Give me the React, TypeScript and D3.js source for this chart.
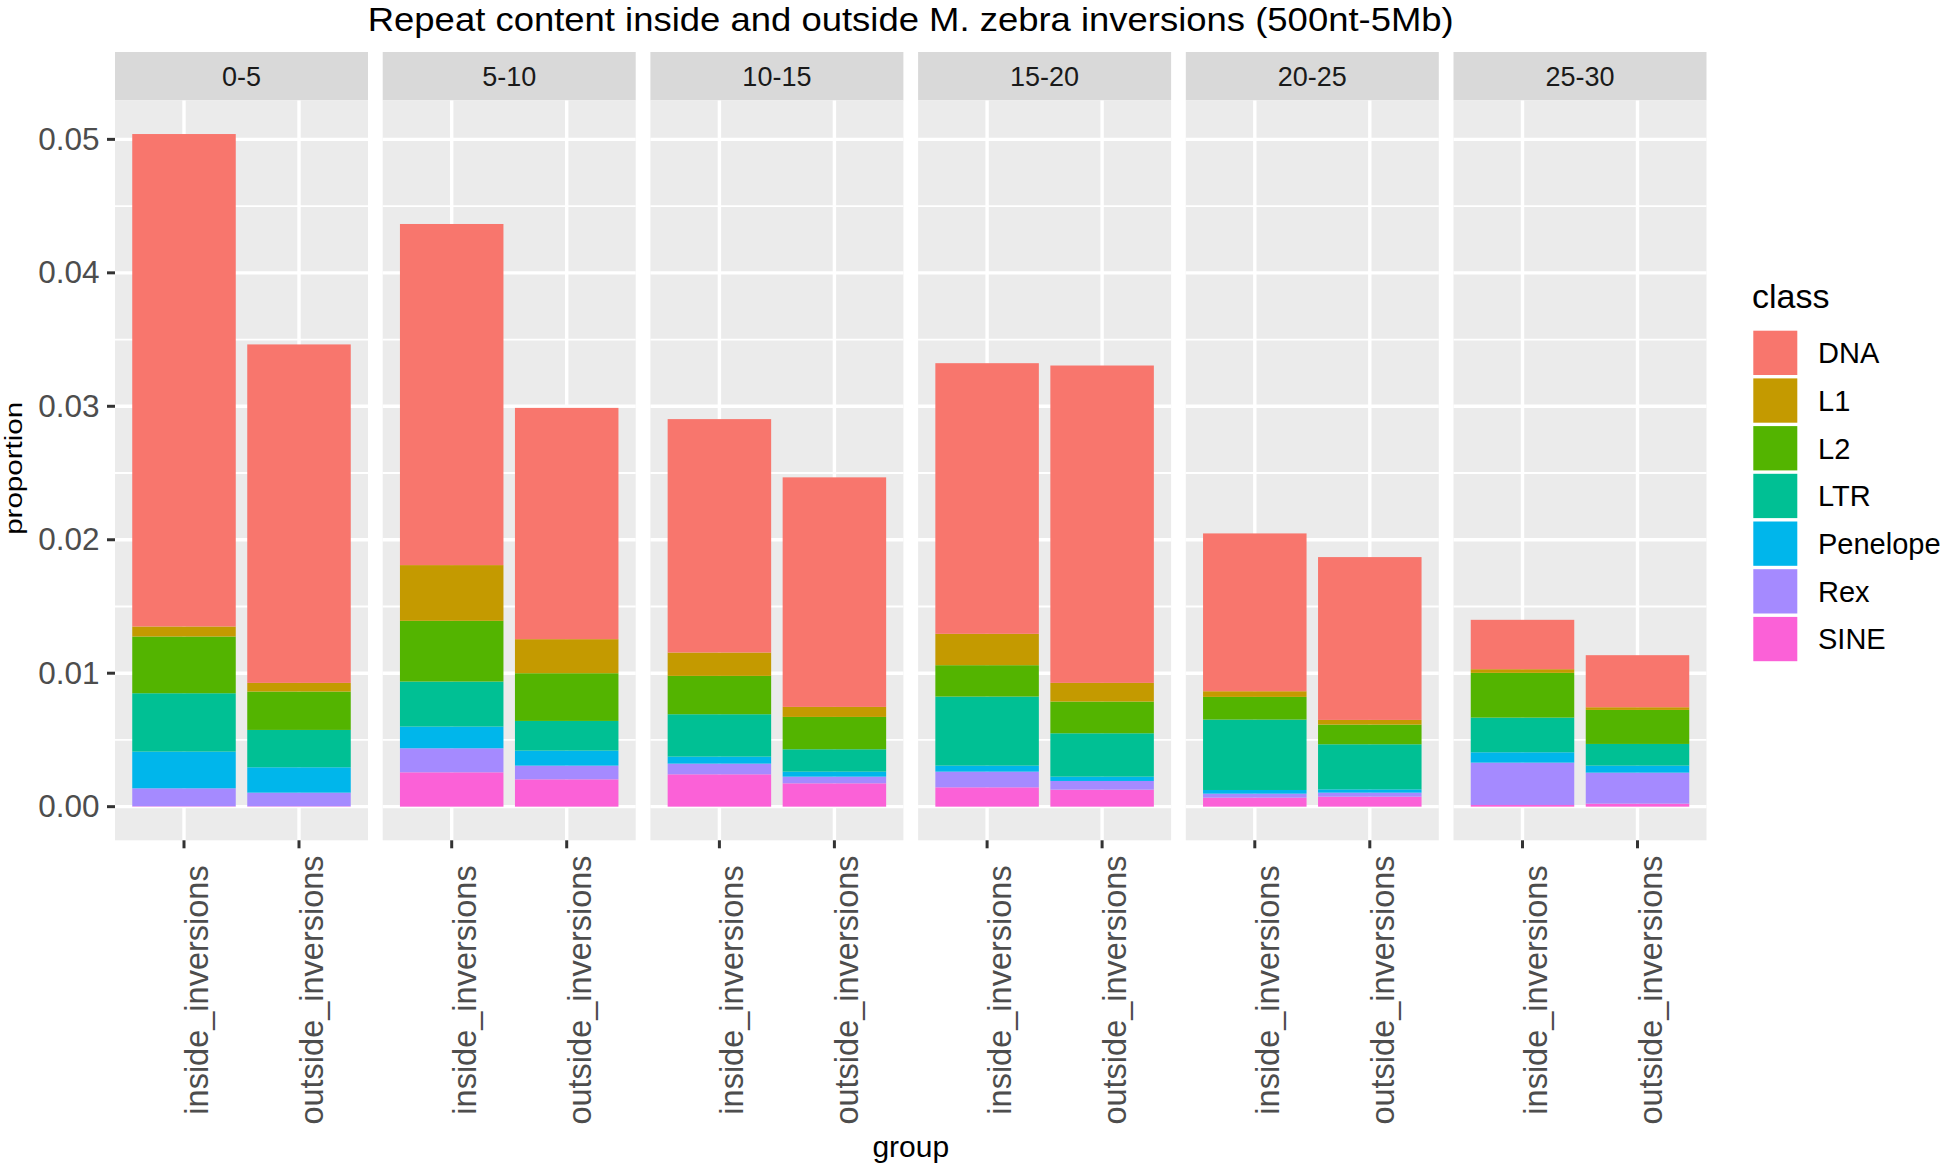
import React from "react";
import * as d3 from "d3";

const bins = ["0-5", "5-10", "10-15", "15-20", "20-25", "25-30"];
const groups = ["inside_inversions", "outside_inversions"];
const classes = ["DNA", "L1", "L2", "LTR", "Penelope", "Rex", "SINE"];
const colors = ["#F8766D", "#C49A00", "#53B400", "#00C094", "#00B6EB", "#A58AFF", "#FB61D7"];

// values per class, ordered bin-major: [bin0 inside, bin0 outside, bin1 inside, ...]
const DNA = [0.0369, 0.02536, 0.02556, 0.01733, 0.01749, 0.0172, 0.02028, 0.02378, 0.011825, 0.0122, 0.0037, 0.0039];
const L1 = [0.00075, 0.00065, 0.004175, 0.00255, 0.00175, 0.00075, 0.00235, 0.0014, 0.000425, 0.00035, 0.000275, 0.0002];
const L2 = [0.00425, 0.002875, 0.00455, 0.003575, 0.002875, 0.002425, 0.00235, 0.002375, 0.0017, 0.001475, 0.00335, 0.00255];
const LTR = [0.004375, 0.0028, 0.003375, 0.002225, 0.003175, 0.001675, 0.005175, 0.00325, 0.005275, 0.003375, 0.0026, 0.001625];
const Penelope = [0.00275, 0.0019, 0.001625, 0.001125, 0.000525, 0.000375, 0.00045, 0.000325, 0.000275, 0.00025, 0.000775, 0.000525];
const Rex = [0.001345, 0.00102, 0.0018, 0.001025, 0.0008, 0.0005, 0.001175, 0.00065, 0.0003, 0.0003, 0.003175, 0.002325];
const SINE = [0.00003, 0.00003, 0.002575, 0.00205, 0.002425, 0.00175, 0.00145, 0.001275, 0.000675, 0.00075, 0.000125, 0.000225];

const yTicks = [0, 0.01, 0.02, 0.03, 0.04, 0.05];
const yMinor = [0.005, 0.015, 0.025, 0.035, 0.045];

const seriesByClass: Record<string, number[]> = { DNA, L1, L2, LTR, Penelope, Rex, SINE };

const FONT = "'Liberation Sans', Arial, Helvetica, sans-serif";

export default function App() {
  const W = 1946, H = 1167;
  const panelLeft = 115, panelW = 253, pitch = 267.7;
  const panelTop = 100.4, panelBottom = 840.3;
  const stripTop = 52;

  const rows = bins.flatMap((b, bi) =>
    groups.map((g, gi) => {
      const r: any = { bin: b, group: g };
      classes.forEach((c) => (r[c] = seriesByClass[c][bi * 2 + gi]));
      return r;
    })
  );
  const stackKeys = [...classes].reverse();
  const stacked = d3.stack().keys(stackKeys)(rows as any);
  const totals = rows.map((r) => classes.reduce((s, c) => s + r[c], 0));
  const maxT = d3.max(totals) as number;
  const y = d3.scaleLinear().domain([-0.05 * maxT, maxT * 1.05]).range([panelBottom, panelTop]);

  // ggplot discrete: expand 0.6 units each side; bar width 0.9
  const x = d3.scalePoint().domain(groups).range([0, panelW]).padding(0.6);
  const unit = panelW / (groups.length - 1 + 1.2);
  const center = (g: string) => x(g) as number;
  const barW = unit * 0.9;

  const colorOf = d3.scaleOrdinal<string, string>().domain(classes).range(colors);
  const midX = (panelLeft + panelLeft + pitch * 5 + panelW) / 2;

  return (
    <svg width={W} height={H} style={{ position: "absolute", left: 0, top: 0 }} fontFamily={FONT}>
      <rect x={0} y={0} width={W} height={H} fill="#ffffff" />
      <text x={midX} y={30.5} textAnchor="middle" fontSize={33} textLength={1086} lengthAdjust="spacingAndGlyphs" fill="#000">
        Repeat content inside and outside M. zebra inversions (500nt-5Mb)
      </text>
      {bins.map((b, bi) => {
        const px = panelLeft + pitch * bi;
        return (
          <g key={b} transform={`translate(${px},0)`}>
            <rect x={0} y={stripTop} width={panelW} height={panelTop - stripTop} fill="#D9D9D9" />
            <text x={panelW / 2} y={86} textAnchor="middle" fontSize={27} fill="#1A1A1A">
              {b}
            </text>
            <rect x={0} y={panelTop} width={panelW} height={panelBottom - panelTop} fill="#EBEBEB" />
            {yMinor.map((t) => (
              <line key={"m" + t} x1={0} x2={panelW} y1={y(t)} y2={y(t)} stroke="#fff" strokeWidth={1.8} />
            ))}
            {yTicks.map((t) => (
              <line key={"M" + t} x1={0} x2={panelW} y1={y(t)} y2={y(t)} stroke="#fff" strokeWidth={3.4} />
            ))}
            {groups.map((g) => (
              <line key={g} x1={center(g)} x2={center(g)} y1={panelTop} y2={panelBottom} stroke="#fff" strokeWidth={3.4} />
            ))}
            {stacked.map((s) =>
              groups.map((g, gi) => {
                const d = s[bi * 2 + gi];
                const y0 = y(d[0]), y1 = y(d[1]);
                return (
                  <rect
                    key={s.key + g}
                    x={center(g) - barW / 2}
                    width={barW}
                    y={y1}
                    height={Math.max(0, y0 - y1)}
                    fill={colorOf(s.key)}
                  />
                );
              })
            )}
            {groups.map((g) => (
              <g key={"t" + g}>
                <line x1={center(g)} x2={center(g)} y1={panelBottom} y2={panelBottom + 8} stroke="#333" strokeWidth={3} />
                <text
                  transform={`translate(${center(g)},990) rotate(-90)`}
                  textAnchor="middle"
                  dy="0.74em"
                  fontSize={32.5}
                  fill="#4D4D4D"
                >
                  {g}
                </text>
              </g>
            ))}
          </g>
        );
      })}
      {yTicks.map((t) => (
        <g key={"yt" + t}>
          <line x1={panelLeft - 8} x2={panelLeft} y1={y(t)} y2={y(t)} stroke="#333" strokeWidth={3} />
          <text x={99.5} y={y(t)} dy="0.33em" textAnchor="end" fontSize={31.5} fill="#4D4D4D">
            {t.toFixed(2)}
          </text>
        </g>
      ))}
      <text
        transform={`translate(22,${(panelTop + panelBottom) / 2 - 2}) rotate(-90)`}
        textAnchor="middle"
        fontSize={23}
        textLength={133}
        lengthAdjust="spacingAndGlyphs"
        fill="#000"
      >
        proportion
      </text>
      <text x={midX} y={1157} textAnchor="middle" fontSize={30} fill="#000">
        group
      </text>
      <g>
        <text x={1752} y={308} fontSize={34} fill="#000">class</text>
        {classes.map((c, i) => (
          <g key={c}>
            <rect x={1753.3} y={330.7 + i * 47.7} width={44} height={44.3} fill={colorOf(c)} />
            <text x={1818} y={330.7 + i * 47.7 + 22} dy="0.36em" fontSize={29} fill="#000">
              {c}
            </text>
          </g>
        ))}
      </g>
    </svg>
  );
}
